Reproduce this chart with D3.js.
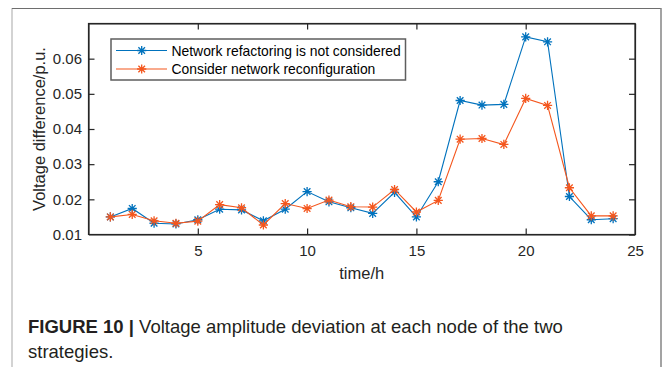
<!DOCTYPE html>
<html>
<head>
<meta charset="utf-8">
<script src="https://cdn.jsdelivr.net/npm/d3@7/dist/d3.min.js"></script>
<style>
  html, body { margin: 0; padding: 0; background: #fff; }
  svg { display: block; font-family: "Liberation Sans", Arial, Helvetica, sans-serif; }
</style>
</head>
<body>
<svg id="chart" width="664" height="367"></svg>
<script>
// Hourly voltage deviation for the two operating strategies
const hours = d3.range(1, 25);
const noReconfig = [0.0150, 0.0174, 0.0132, 0.0130, 0.0142, 0.0172, 0.0170, 0.0139,
                    0.0172, 0.0222, 0.0193, 0.0176, 0.0160, 0.0220, 0.0150, 0.0250,
                    0.0481, 0.0468, 0.0470, 0.0662, 0.0648, 0.0208, 0.0142, 0.0145];
const withReconfig = [0.0150, 0.0157, 0.0139, 0.0132, 0.0138, 0.0185, 0.0176, 0.0127,
                      0.0188, 0.0174, 0.0198, 0.0179, 0.0178, 0.0228, 0.0164, 0.0197,
                      0.0371, 0.0373, 0.0356, 0.0487, 0.0467, 0.0233, 0.0153, 0.0153];
const seriesNames = ["Network refactoring is not considered", "Consider network reconfiguration"];
const seriesColors = ["#0072bd", "#f4561d"];
const xTicks = [5, 10, 15, 20, 25];
const yTicks = [0.01, 0.02, 0.03, 0.04, 0.05, 0.06];
const xLabel = "time/h";
const yLabel = "Voltage difference/p.u.";

const svg = d3.select("#chart");

// page frame
svg.append("line").attr("x1", 12).attr("x2", 12).attr("y1", 8).attr("y2", 367)
  .attr("stroke", "#c4c4c4").attr("stroke-width", 1.5);
svg.append("line").attr("x1", 12).attr("x2", 661).attr("y1", 8.5).attr("y2", 8.5)
  .attr("stroke", "#6e6e6e").attr("stroke-width", 1.2);
svg.append("line").attr("x1", 661).attr("x2", 661).attr("y1", 8).attr("y2", 367)
  .attr("stroke", "#858585").attr("stroke-width", 1.5);

const plot = { left: 88.5, right: 635, top: 23.5, bottom: 234.5 };
const x = d3.scaleLinear().domain([0, 25]).range([plot.left, plot.right]);
const y = d3.scaleLinear().domain([0.01, 0.07]).range([plot.bottom, plot.top]);

const tickFont = "15px";

// axes: labelled bottom/left, mirrored inward ticks on top/right
const gx = svg.append("g").attr("transform", `translate(0,${plot.bottom})`)
  .call(d3.axisBottom(x).tickValues(xTicks).tickSizeInner(-6).tickSizeOuter(0).tickPadding(11));
const gy = svg.append("g").attr("transform", `translate(${plot.left},0)`)
  .call(d3.axisLeft(y).tickValues(yTicks).tickFormat(d3.format(".2f")).tickSizeInner(-6).tickSizeOuter(0).tickPadding(6.5));
const gxt = svg.append("g").attr("transform", `translate(0,${plot.top})`)
  .call(d3.axisTop(x).tickValues(xTicks).tickSizeInner(-6).tickSizeOuter(0).tickFormat(""));
const gyr = svg.append("g").attr("transform", `translate(${plot.right},0)`)
  .call(d3.axisRight(y).tickValues(yTicks).tickSizeInner(-6).tickSizeOuter(0).tickFormat(""));

[gx, gy, gxt, gyr].forEach(g => {
  g.select(".domain").attr("stroke", "#262626").attr("stroke-width", 1.2);
  g.selectAll(".tick line").attr("stroke", "#262626").attr("stroke-width", 1.2);
  g.selectAll(".tick text").attr("fill", "#262626").style("font-size", tickFont)
    .style("font-family", "'Liberation Sans', Arial, sans-serif");
});
// the box edge already sits at these corner ticks
gy.selectAll(".tick").filter(d => d === 0.01).select("line").remove();
gx.selectAll(".tick").filter(d => d === 25).select("line").remove();

// box edges
svg.append("rect").attr("x", plot.left).attr("y", plot.top)
  .attr("width", plot.right - plot.left).attr("height", plot.bottom - plot.top)
  .attr("fill", "none").attr("stroke", "#262626").attr("stroke-width", 1.2);

// axis titles
svg.append("text").attr("x", (plot.left + plot.right) / 2).attr("y", 279)
  .attr("text-anchor", "middle").attr("fill", "#262626").style("font-size", "16.5px").text(xLabel);
svg.append("text").attr("transform", `translate(45,${(plot.top + plot.bottom) / 2}) rotate(-90)`)
  .attr("text-anchor", "middle").attr("fill", "#262626").style("font-size", "16.5px").text(yLabel);

// asterisk marker: horizontal, vertical and two diagonal strokes
function asterisk(g, cx, cy, color) {
  const r = 4.6, d = r * 0.72;
  const p = `M${cx - r},${cy}L${cx + r},${cy}M${cx},${cy - r}L${cx},${cy + r}` +
            `M${cx - d},${cy - d}L${cx + d},${cy + d}M${cx - d},${cy + d}L${cx + d},${cy - d}`;
  g.append("path").attr("d", p).attr("stroke", color).attr("stroke-width", 1.3).attr("fill", "none");
}

const line = d3.line().x((d, i) => x(hours[i])).y(d => y(d));
[noReconfig, withReconfig].forEach((vals, k) => {
  const g = svg.append("g");
  g.append("path").datum(vals).attr("d", line).attr("fill", "none")
    .attr("stroke", seriesColors[k]).attr("stroke-width", 1.1);
  vals.forEach((v, i) => asterisk(g, x(hours[i]), y(v), seriesColors[k]));
});

// legend
const lg = svg.append("g");
lg.append("rect").attr("x", 111).attr("y", 39).attr("width", 294.5).attr("height", 41)
  .attr("fill", "#fff").attr("stroke", "#5e5e5e").attr("stroke-width", 1.5);
seriesNames.forEach((name, k) => {
  const cy = 50.5 + k * 18.5;
  lg.append("line").attr("x1", 116).attr("x2", 167).attr("y1", cy).attr("y2", cy)
    .attr("stroke", seriesColors[k]).attr("stroke-width", 1.1);
  asterisk(lg, 141.7, cy, seriesColors[k]);
  lg.append("text").attr("x", 171.5).attr("y", cy + 5).attr("fill", "#000")
    .style("font-size", "13.9px").text(name);
});

// caption
const cap = svg.append("text").attr("x", 28).attr("y", 333).attr("fill", "#231f20").style("font-size", "18.5px");
cap.append("tspan").style("font-weight", "bold").text("FIGURE 10 | ");
cap.append("tspan").text("Voltage amplitude deviation at each node of the two");
svg.append("text").attr("x", 28).attr("y", 357.5).attr("fill", "#231f20").style("font-size", "18.5px")
  .text("strategies.");
</script>
</body>
</html>
